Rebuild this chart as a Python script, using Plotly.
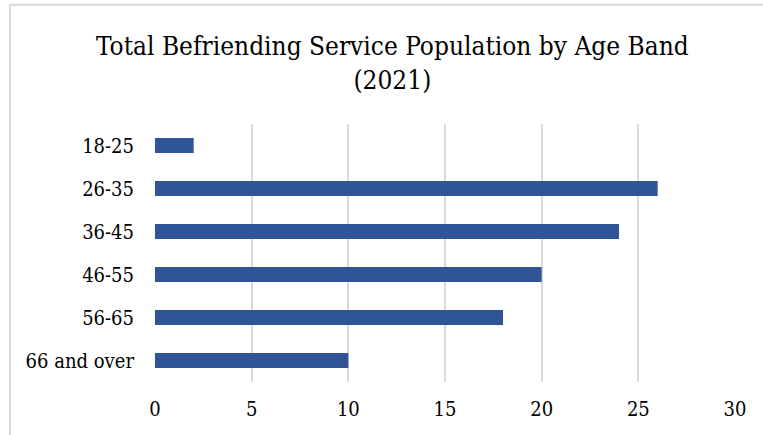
import plotly.graph_objects as go

# Age bands (top to bottom) and number of people in each
age_bands = ["18-25", "26-35", "36-45", "46-55", "56-65", "66 and over"]
people = [2, 26, 24, 20, 18, 10]
x_ticks = [0, 5, 10, 15, 20, 25, 30]
title_text = "Total Befriending Service Population by Age Band<br>(2021)"

FONT = "DejaVu Serif Condensed, DejaVu Serif"
GRID = "#d9d9d9"

fig = go.Figure(
    go.Bar(
        x=people,
        y=age_bands,
        orientation="h",
        marker=dict(color="#2F5597", line=dict(width=0)),
        width=0.35,
        hoverinfo="x+y",
    )
)

fig.update_layout(
    width=763,
    height=435,
    margin=dict(l=155, r=28, t=124, b=53),
    paper_bgcolor="white",
    plot_bgcolor="white",
    showlegend=False,
    xaxis=dict(
        range=[0, 30],
        tickvals=x_ticks,
        showgrid=True,
        gridcolor=GRID,
        gridwidth=1.5,
        zeroline=False,
        showline=False,
        ticks="",
        ticklabelstandoff=13,
        tickfont=dict(family=FONT, size=20, color="#000000"),
        fixedrange=True,
    ),
    yaxis=dict(
        categoryorder="array",
        categoryarray=age_bands,
        autorange="reversed",
        showgrid=False,
        zeroline=False,
        showline=False,
        ticks="",
        ticklabelstandoff=20,
        tickfont=dict(family=FONT, size=20, color="#000000"),
        fixedrange=True,
    ),
    annotations=[
        dict(
            text=title_text,
            xref="paper", yref="paper",
            x=0.41, y=1.236,
            xanchor="center", yanchor="middle",
            showarrow=False,
            font=dict(family=FONT, size=26, color="#000000"),
        )
    ],
    shapes=[
        # outer frame: top and left edges
        dict(type="line", xref="paper", yref="paper",
             x0=-0.25, x1=1.1, y0=1.462, y1=1.462,
             line=dict(color=GRID, width=2)),
        dict(type="line", xref="paper", yref="paper",
             x0=-0.25, x1=-0.25, y0=-0.3, y1=1.462,
             line=dict(color=GRID, width=2)),
    ],
)

fig.write_html("out.html")
